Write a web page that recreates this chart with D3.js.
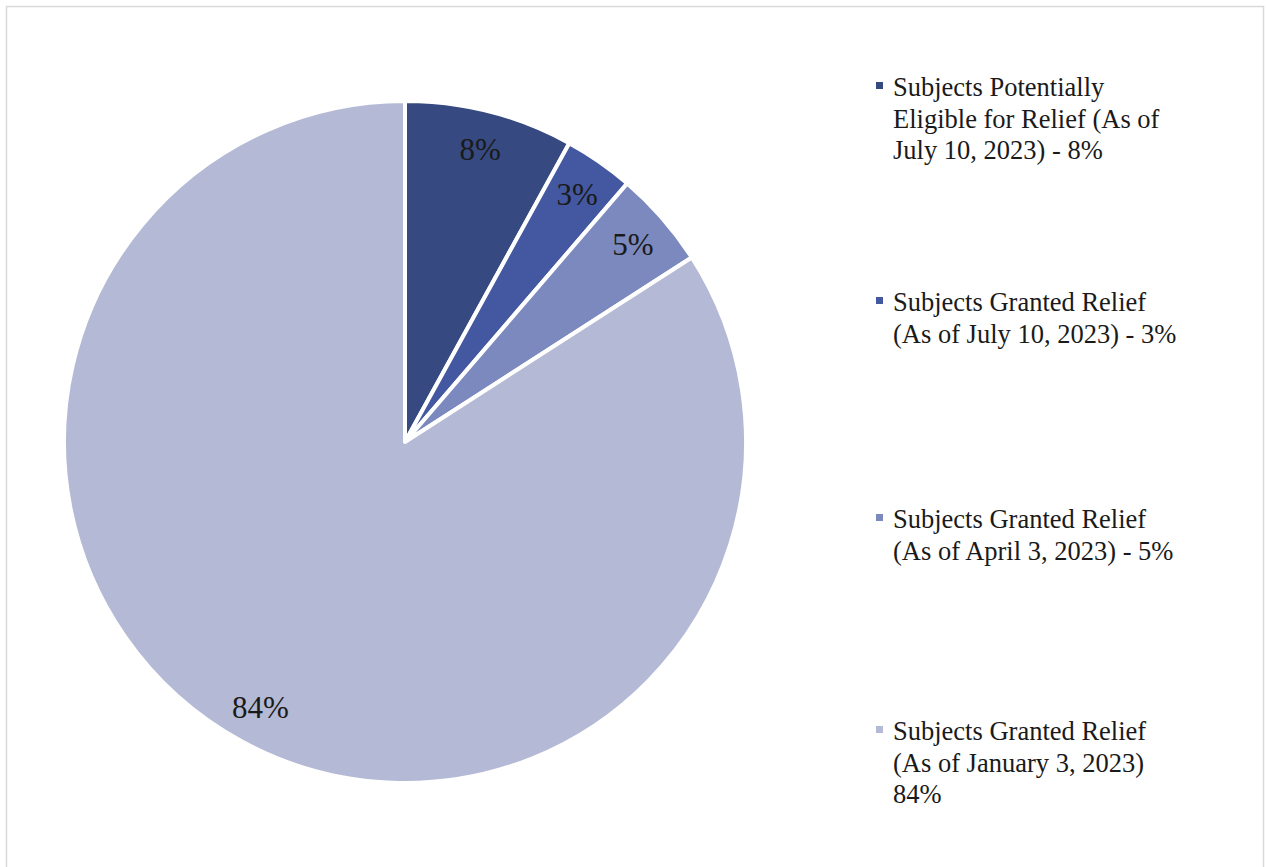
<!DOCTYPE html>
<html><head><meta charset="utf-8">
<script src="https://cdn.jsdelivr.net/npm/d3@7"></script>
<style>body{margin:0;background:#fff}svg{display:block}</style>
</head><body>
<svg id="c" width="1266" height="867"></svg>
<script>
const categories = [
  ["Subjects Potentially", "Eligible for Relief (As of", "July 10, 2023) - 8%"],
  ["Subjects Granted Relief", "(As of July 10, 2023) - 3%"],
  ["Subjects Granted Relief", "(As of April 3, 2023) - 5%"],
  ["Subjects Granted Relief", "(As of January 3, 2023)", "84%"]
];
const values = [8.0, 3.3, 4.6, 84.1];
const labels = ["8%", "3%", "5%", "84%"];
const colors = ["#364a81", "#4358a0", "#7b89be", "#b4bad5"];

const svg = d3.select("#c");
svg.append("rect").attr("x",6.5).attr("y",6.5).attr("width",1257).attr("height",870)
  .attr("fill","none").attr("stroke","#d9d9d9").attr("stroke-width",1.5);

const cx = 405, cy = 442, r = 341;
const g = svg.append("g").attr("transform",`translate(${cx},${cy})`);
const pie = d3.pie().sort(null).value(d=>d);
const arcs = pie(values);
const arc = d3.arc().innerRadius(0).outerRadius(r);
const labelArc = d3.arc().innerRadius(302).outerRadius(302);
g.selectAll("path").data(arcs).enter().append("path")
  .attr("d",arc).attr("fill",(d,i)=>colors[i])
  .attr("stroke","#fff").attr("stroke-width",4).attr("stroke-linejoin","round");
g.selectAll("text").data(arcs).enter().append("text")
  .attr("transform",d=>`translate(${labelArc.centroid(d)})`)
  .attr("text-anchor","middle").attr("dy","0.35em")
  .attr("font-family","'Liberation Serif','Times New Roman',serif")
  .attr("font-size",31).attr("fill","#1a1a1a")
  .text((d,i)=>labels[i]);

const legY = [96, 311, 528, 740];
const lg = svg.append("g");
categories.forEach((lines,i)=>{
  lg.append("rect").attr("x",876).attr("y",legY[i]-14).attr("width",7).attr("height",7).attr("fill",colors[i]);
  const t = lg.append("text").attr("x",893).attr("y",legY[i])
    .attr("font-family","'Liberation Serif','Times New Roman',serif")
    .attr("font-size",26.5).attr("fill","#1a1a1a");
  lines.forEach((l,j)=>t.append("tspan").attr("x",893).attr("y",legY[i]+j*31.5).text(l));
});
</script>
</body></html>
